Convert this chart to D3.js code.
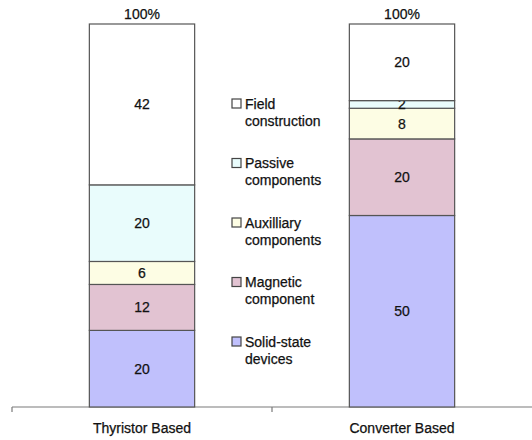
<!DOCTYPE html>
<html>

<head>
  <title>Cost breakdown</title>
  <script src="https://cdn.jsdelivr.net/npm/d3@7"></script>
  <style>
    body { margin: 0; background: #fff; }
    text { font-family: "Liberation Sans", Arial, sans-serif; }
  </style>
</head>

<body>
  <svg width="532" height="440" id="chart"></svg>
  <script>
    // data
    const categories = ['Thyristor Based', 'Converter Based'];
    const seriesKeys = ['Solid-state devices', 'Magnetic component', 'Auxilliary components', 'Passive components', 'Field construction'];
    const solidState = [20, 50];
    const magnetic = [12, 20];
    const auxiliary = [6, 8];
    const passive = [20, 2];
    const field = [42, 20];
    const totalLabel = ['100%', '100%'];
    const legendLines = {
      'Field construction': ['Field', 'construction'],
      'Passive components': ['Passive', 'components'],
      'Auxilliary components': ['Auxilliary', 'components'],
      'Magnetic component': ['Magnetic', 'component'],
      'Solid-state devices': ['Solid-state', 'devices']
    };

    const svg = d3.select('#chart');
    const margin = { top: 24, right: 0, bottom: 33, left: 12 };
    const width = +svg.attr('width');
    const height = +svg.attr('height');
    const innerWidth = width - margin.left - margin.right;
    const innerHeight = height - margin.top - margin.bottom;
    const g = svg.append('g').attr('transform', `translate(${margin.left}, ${margin.top})`);

    const color = d3.scaleOrdinal()
      .domain(seriesKeys)
      .range(['#c0c0fc', '#e2c3d2', '#fdfde4', '#e9fcfc', '#ffffff']);

    const rows = categories.map((c, i) => ({
      cat: c,
      'Solid-state devices': solidState[i],
      'Magnetic component': magnetic[i],
      'Auxilliary components': auxiliary[i],
      'Passive components': passive[i],
      'Field construction': field[i]
    }));
    const stacked = d3.stack().keys(seriesKeys)(rows);

    const xScale = d3.scaleBand().domain(categories).range([0, innerWidth]).padding(0);
    const yScale = d3.scaleLinear().domain([0, 100]).range([innerHeight, 0]);
    const barW = xScale.bandwidth() * 0.405;
    const barX = c => xScale(c) + (xScale.bandwidth() - barW) / 2;

    // little stroke to get the heavier look of the original text
    const heavy = sel => sel.attr('fill', '#111').attr('stroke', '#111').attr('stroke-width', 0.25);

    // axis: line plus ticks at band edges
    const axisG = g.append('g').attr('transform', `translate(0, ${innerHeight})`);
    axisG.append('line').attr('x1', 0).attr('x2', innerWidth)
      .attr('stroke', '#7a7a7a').attr('stroke-width', 1.2);
    axisG.selectAll('.tk').data(categories).join('line')
      .attr('x1', d => xScale(d)).attr('x2', d => xScale(d))
      .attr('y1', 0).attr('y2', 5)
      .attr('stroke', '#7a7a7a').attr('stroke-width', 1.2);
    axisG.selectAll('.catlabel').data(categories).join('text')
      .attr('x', d => xScale(d) + xScale.bandwidth() / 2)
      .attr('y', 26)
      .attr('text-anchor', 'middle')
      .attr('font-size', '14px')
      .call(heavy)
      .text(d => d);

    // stacked bars
    const layers = g.selectAll('.layer').data(stacked).join('g')
      .attr('class', 'layer')
      .attr('fill', d => color(d.key));
    layers.selectAll('rect').data(d => d).join('rect')
      .attr('x', d => barX(d.data.cat))
      .attr('width', barW)
      .attr('y', d => yScale(d[1]))
      .attr('height', d => yScale(d[0]) - yScale(d[1]))
      .attr('stroke', '#555')
      .attr('stroke-width', 1.2);

    layers.selectAll('.val').data(d => d).join('text')
      .attr('x', d => barX(d.data.cat) + barW / 2)
      .attr('y', d => (yScale(d[0]) + yScale(d[1])) / 2)
      .attr('dy', '0.36em')
      .attr('text-anchor', 'middle')
      .attr('font-size', '14px')
      .call(heavy)
      .text(d => d[1] - d[0]);

    // totals on top
    g.selectAll('.total').data(categories).join('text')
      .attr('x', d => barX(d) + barW / 2)
      .attr('y', yScale(100) - 5)
      .attr('text-anchor', 'middle')
      .attr('font-size', '14px')
      .call(heavy)
      .text((d, i) => totalLabel[i]);

    // legend
    const legendOrder = seriesKeys.slice().reverse();
    const lg = svg.append('g').attr('transform', 'translate(232, 99)');
    const items = lg.selectAll('.item').data(legendOrder).join('g')
      .attr('transform', (d, i) => `translate(0, ${i * 59.5})`);
    items.append('rect')
      .attr('width', 9).attr('height', 9)
      .attr('fill', d => color(d))
      .attr('stroke', '#444').attr('stroke-width', 1.2);
    items.append('text')
      .attr('x', 13).attr('y', 9.5)
      .attr('font-size', '14px')
      .call(heavy)
      .selectAll('tspan').data(d => legendLines[d]).join('tspan')
      .attr('x', 13)
      .attr('dy', (d, i) => i === 0 ? 0 : 17)
      .text(d => d);
  </script>
</body>

</html>
